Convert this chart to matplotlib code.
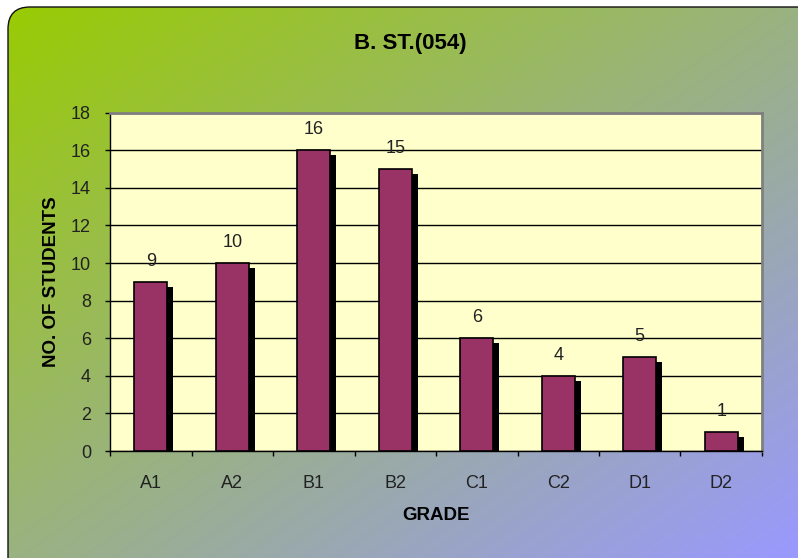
import numpy as np
import matplotlib
matplotlib.use("Agg")
import matplotlib.pyplot as plt
from matplotlib.patches import FancyBboxPatch
import matplotlib.patheffects as pe

plt.rcParams['font.family'] = ['Liberation Sans', 'DejaVu Sans']

categories = ["A1", "A2", "B1", "B2", "C1", "C2", "D1", "D2"]
students = [9, 10, 16, 15, 6, 4, 5, 1]
yticks = [0, 2, 4, 6, 8, 10, 12, 14, 16, 18]
title = "B. ST.(054)"
xlabel = "GRADE"
ylabel = "NO. OF STUDENTS"

W, H = 798, 558
fig = plt.figure(figsize=(W / 100, H / 100), dpi=100)
fig.patch.set_facecolor("white")

# background gradient in rounded frame
bg = fig.add_axes([0, 0, 1, 1])
bg.set_xlim(0, W)
bg.set_ylim(H, 0)
bg.axis("off")
xx, yy = np.meshgrid(np.linspace(0, 1, W), np.linspace(0, 1, H))
t = (xx + yy) / 2
c0 = np.array([0x99, 0xCC, 0x00]) / 255
c1 = np.array([0x99, 0x99, 0xFF]) / 255
img = c0[None, None, :] * (1 - t[..., None]) + c1[None, None, :] * t[..., None]
im = bg.imshow(img, extent=[0, W, H, 0], aspect="auto", zorder=0)
frame = FancyBboxPatch((8, 7), 830, 600, boxstyle="round,pad=0,rounding_size=22",
                       transform=bg.transData, facecolor="none", edgecolor="#111111",
                       linewidth=1.0, zorder=2)
bg.add_patch(frame)
im.set_clip_path(frame)

# main axes
left, right, top, bottom = 110, 762, 112.7, 451
ax = fig.add_axes([left / W, 1 - bottom / H, (right - left) / W, (bottom - top) / H])
ax.set_facecolor("#FFFFCC")
x = np.arange(len(categories))
bars = ax.bar(x, students, width=0.4, color="#993366", edgecolor="black", linewidth=1.2,
              zorder=3,
              path_effects=[pe.SimplePatchShadow(offset=(4.3, -3.6), shadow_rgbFace="black", alpha=1.0),
                            pe.Normal()])
for xi, v in zip(x, students):
    ax.annotate(str(v), (xi, v), xytext=(0, 8.5), textcoords="offset points",
                ha="center", va="bottom", fontsize=13, color="#222222", zorder=4)

ax.set_xlim(-0.5, len(categories) - 0.5)
ax.set_ylim(0, 18)
ax.set_yticks(yticks)
ax.yaxis.grid(True, color="black", linewidth=1.0)
ax.set_axisbelow(True)
ax.tick_params(axis="y", direction="out", length=3.6, width=1, color="black",
               labelsize=13, pad=10, labelcolor="#222222")
ax.set_xticks(np.arange(-0.5, len(categories), 1.0))
ax.set_xticklabels([])
ax.set_xticks(x, minor=True)
ax.set_xticklabels(categories, minor=True)
ax.tick_params(axis="x", which="major", direction="out", length=3.6, width=1, color="black")
ax.tick_params(axis="x", which="minor", length=0, labelsize=13, pad=17, labelcolor="#222222")

for s in ["top", "right"]:
    ax.spines[s].set_color("#808080")
    ax.spines[s].set_linewidth(2)
for s in ["left", "bottom"]:
    ax.spines[s].set_color("black")
    ax.spines[s].set_linewidth(1)

ax.set_xlabel(xlabel, fontsize=13.5, fontweight="bold", labelpad=11)
ax.set_ylabel(ylabel, fontsize=13.5, fontweight="bold", labelpad=8)
fig.text(410 / W, 1 - 44 / H, title, fontsize=16, fontweight="bold", ha="center", va="center")

fig.savefig("out.png", dpi=100)
